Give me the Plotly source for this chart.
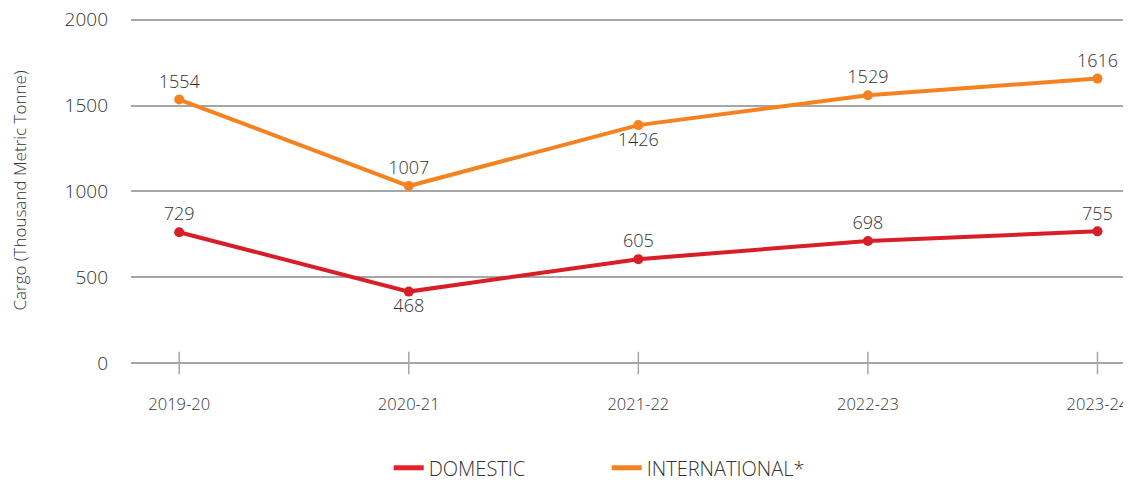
import plotly.graph_objects as go

years = ['2019-20', '2020-21', '2021-22', '2022-23', '2023-24']

# plotted positions as drawn in the chart
domestic = [762, 416, 605, 711, 767]
international = [1535, 1031, 1386, 1560, 1657]

# printed data labels
domestic_labels = ['729', '468', '605', '698', '755']
international_labels = ['1554', '1007', '1426', '1529', '1616']
domestic_pos = ['top center', 'bottom center', 'top center', 'top center', 'top center']
international_pos = ['top center', 'top center', 'bottom center', 'top center', 'top center']

red = '#d81e27'
orange = '#f58220'
grid = '#a6a6a6'
txt = '#333333'
font = 'Open Sans'

fig = go.Figure()

# tick marks crossing the baseline
fig.add_trace(go.Scatter(x=years, y=[0] * len(years), mode='markers',
                         marker=dict(symbol='line-ns', size=16, line=dict(color=grid, width=1.5)),
                         showlegend=False, hoverinfo='skip', cliponaxis=False))

fig.add_trace(go.Scatter(x=years, y=domestic, name='DOMESTIC', mode='lines+markers+text',
                         line=dict(color=red, width=4), marker=dict(size=10, color=red),
                         text=domestic_labels, textposition=domestic_pos,
                         textfont=dict(family=font, size=18, color=txt, weight=300),
                         cliponaxis=False, showlegend=False))
fig.add_trace(go.Scatter(x=years, y=international, name='INTERNATIONAL*', mode='lines+markers+text',
                         line=dict(color=orange, width=4), marker=dict(size=10, color=orange),
                         text=international_labels, textposition=international_pos,
                         textfont=dict(family=font, size=18, color=txt, weight=300),
                         cliponaxis=False, showlegend=False))

# legend entries show the line only
fig.add_trace(go.Scatter(x=[None], y=[None], name='DOMESTIC', mode='lines',
                         line=dict(color='#e8202a', width=5)))
fig.add_trace(go.Scatter(x=[None], y=[None], name='INTERNATIONAL*', mode='lines',
                         line=dict(color=orange, width=5)))

# page body has an 8px margin, so the figure is drawn 8px in and down
fig.update_layout(
    width=1123, height=472,
    margin=dict(l=123, r=0, t=9.8, b=116.7),
    plot_bgcolor='white', paper_bgcolor='white',
    font=dict(family=font, size=17, color=txt, weight=300),
    legend=dict(orientation='h', xref='container', yref='container',
                x=0.339, xanchor='left', y=0.026, yanchor='middle',
                font=dict(family=font, size=20, color=txt, weight=300),
                entrywidth=173, entrywidthmode='pixels'),
)
fig.update_xaxes(type='category', range=[-0.21, 4.146], showgrid=False, showline=False,
                 zeroline=False, ticks='', ticklabelstandoff=29, automargin=False,
                 ticklabeloverflow='allow',
                 tickfont=dict(family=font, size=16.5, color=txt, weight=300))
fig.update_yaxes(range=[0, 2010], tickvals=[0, 500, 1000, 1500, 2000],
                 showgrid=True, gridcolor=grid, gridwidth=1.5,
                 zeroline=True, zerolinecolor=grid, zerolinewidth=1.5,
                 showline=False, ticks='', ticklabelstandoff=22, automargin=False,
                 ticklabeloverflow='allow',
                 tickfont=dict(family=font, size=19, color=txt, weight=300),
                 title=dict(text='Cargo (Thousand Metric Tonne)', standoff=40,
                            font=dict(family=font, size=17, color=txt, weight=300)))

fig.write_html('out.html')
